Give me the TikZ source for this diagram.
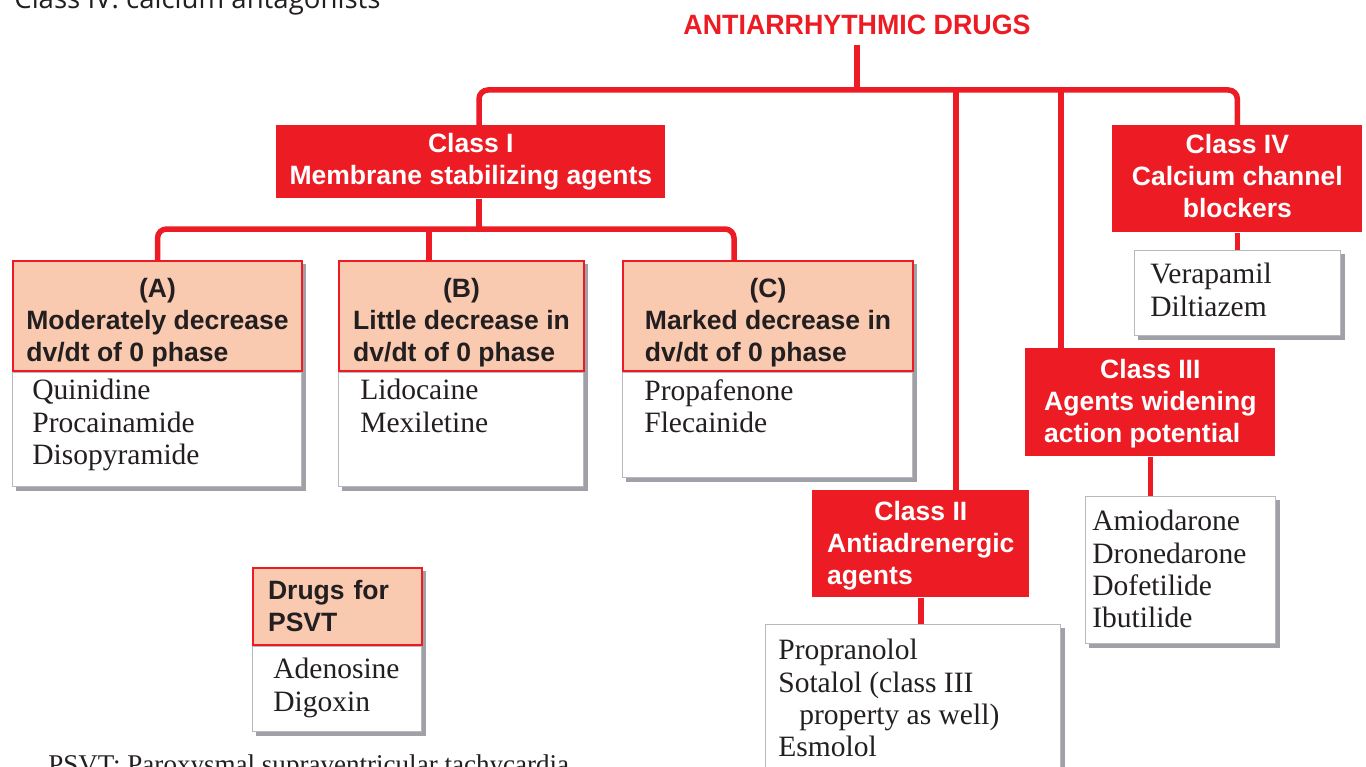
\documentclass[tikz,border=0pt]{standalone}
\usepackage{fontspec}
\setmainfont{Liberation Serif}
\newfontfamily\headfont{Liberation Sans}
\newfontfamily\titlefont[FakeStretch=0.96]{Liberation Sans}
\newfontfamily\notefont{Open Sans}
\usetikzlibrary{backgrounds}
\definecolor{clred}{RGB}{237,28,36}
\definecolor{peach}{RGB}{249,201,176}
\definecolor{boxgrey}{RGB}{185,185,185}
\definecolor{shadowgrey}{RGB}{160,161,168}
\definecolor{inkblack}{RGB}{35,31,32}
\newdimen\upx \upx=0.02cm
% first line centred, the others flush left
\newcommand{\headlines}[3][0pt]{\begin{tabular}{@{}l@{}}\noalign{\vskip#1}\multicolumn{1}{@{}c@{}}{#2}\\#3\end{tabular}}
\tikzset{
  link/.style={draw=clred, line width=5.5\upx},
  classbox/.style={fill=clred, text=white, inner sep=0, anchor=north west,
    font=\headfont\bfseries\fontsize{15.1pt}{18.2pt}\selectfont},
  subhead/.style={fill=peach, draw=clred, line width=1.2pt, text=inkblack, inner sep=0,
    anchor=south west, font=\headfont\bfseries\fontsize{15.1pt}{18.2pt}\selectfont},
  drugbox/.style={draw=boxgrey, fill=white, line width=0.6pt, inner sep=0, anchor=north west},
  drugs/.style={anchor=north west, align=left, inner sep=0, text=inkblack,
    font=\fontsize{16.8pt}{18.4pt}\selectfont},
  title/.style={text=clred, inner sep=0, outer ysep=10\upx,
    font=\titlefont\bfseries\fontsize{15.9pt}{18pt}\selectfont}
}

\begin{document}
\begin{tikzpicture}[x=0.02cm, y=-0.02cm]
    \path[use as bounding box, clip] (0,0) rectangle (1366,767);
    % cut-off line at the top
    \node[anchor=base west, inner sep=0, text=inkblack,
      font=\notefont\fontsize{15.7pt}{18pt}\selectfont] (topnote) at (14,9) {Class IV: calcium antagonists};
    \node[title] (title) at (857,25) {ANTIARRHYTHMIC DRUGS};

    % the four classes
    \node[classbox, minimum width=389\upx, minimum height=73\upx, align=center] (c1) at (276,125) {Class I\\Membrane stabilizing agents};
    \node[classbox, minimum width=250\upx, minimum height=107\upx] (c4) at (1112,125) {\begin{tabular}{@{}c@{}}Class IV\\Calcium channel\\blockers\end{tabular}};
    \node[classbox, minimum width=250\upx, minimum height=108\upx] (c3) at (1025,348) {\headlines[4\upx]{Class III}{Agents widening\\action potential}};
    \node[classbox, minimum width=217\upx, minimum height=107\upx] (c2) at (812,490) {\headlines[4\upx]{Class II}{Antiadrenergic\\agents}};

    % drug lists
    \node[drugbox, minimum width=289\upx, minimum height=114\upx] (bA) at (12,372) {};
    \node[drugbox, minimum width=245\upx, minimum height=114\upx] (bB) at (338,372) {};
    \node[drugbox, minimum width=290\upx, minimum height=105\upx] (bC) at (622,372) {};
    \node[drugbox, minimum width=169\upx, minimum height=85\upx] (bP) at (252,646) {};
    \node[drugbox, minimum width=206\upx, minimum height=85\upx] (b4) at (1134,250) {};
    \node[drugbox, minimum width=190\upx, minimum height=147\upx] (b3) at (1085,496) {};
    \node[drugbox, minimum width=295\upx, minimum height=160\upx] (b2) at (765,624) {};

    % subclass headers
    \node[subhead, minimum width=289\upx, minimum height=109\upx] (hA) at (bA.north west) {\headlines[14\upx]{(A)}{Moderately decrease\\dv/dt of 0 phase}};
    \node[subhead, minimum width=245\upx, minimum height=109\upx] (hB) at (bB.north west) {\headlines[14\upx]{(B)}{Little decrease in\\dv/dt of 0 phase}};
    \node[subhead, minimum width=290\upx, minimum height=109\upx] (hC) at (bC.north west) {\headlines[14\upx]{(C)}{Marked decrease in\\dv/dt of 0 phase}};
    \node[subhead, minimum width=169\upx, minimum height=77\upx, text width=139\upx, align=left] (hP) at (bP.north west) {Drugs for\\PSVT};

    \node[drugs] (tA) at ([shift={(20,7)}]bA.north west) {Quinidine\\Procainamide\\Disopyramide};
    \node[drugs] (tB) at ([shift={(22,7)}]bB.north west) {Lidocaine\\Mexiletine};
    \node[drugs] (tC) at ([shift={(22,7)}]bC.north west) {Propafenone\\Flecainide};
    \node[drugs] (tP) at ([shift={(21,12)}]bP.north west) {Adenosine\\Digoxin};
    \node[drugs] (t4) at ([shift={(16,13)}]b4.north west) {Verapamil\\Diltiazem};
    \node[drugs] (t3) at ([shift={(7,14)}]b3.north west) {Amiodarone\\Dronedarone\\Dofetilide\\Ibutilide};
    \node[drugs] (t2) at ([shift={(13,15)}]b2.north west) {Propranolol\\Sotalol (class III\\\hspace*{21\upx}property as well)\\Esmolol};
    \node[drugs, anchor=base west, font=\fontsize{15.4pt}{18pt}\selectfont] (psvtnote) at (48,773) {PSVT: Paroxysmal supraventricular tachycardia};

    % connectors
    \coordinate (top) at (857,90);
    \coordinate (k1) at (479,90);
    \coordinate (k2) at (956,90);
    \coordinate (k3) at (1061,90);
    \coordinate (s1) at (479,229);
    \coordinate (sB) at (429,229);
    \coordinate (sC) at (734,229);
    \draw[link] (title.south) -- (title.south |- top);
    \draw[link, rounded corners=9\upx] (k1 |- c1.north) -- (k1) -- (c4.north |- top) -- (c4.north);
    \draw[link] (k2) -- (k2 |- c2.north);
    \draw[link] (k3) -- (k3 |- c3.north);
    \draw[link] (s1 |- c1.south) -- (s1);
    \draw[link, rounded corners=9\upx] (hA.north) |- (sC) -- (sC |- hC.north);
    \draw[link] (sB) -- (sB |- hB.north);
    \draw[link] (c4.south) -- (c4.south |- b4.north);
    \draw[link] (c3.south) -- (c3.south |- b3.north);
    \draw[link] (c2.south) -- (c2.south |- b2.north);

    % shadows behind the cards
    \begin{scope}[on background layer]
      \fill[white] (0,0) rectangle (1366,767);
      \foreach \h/\b in {hA/bA, hB/bB, hC/bC, hP/bP}
        \fill[shadowgrey] ([shift={(4,4)}]\h.north west) rectangle ([shift={(4,4)}]\b.south east);
      \foreach \b in {b2, b3, b4}
        \fill[shadowgrey] ([shift={(4,4)}]\b.north west) rectangle ([shift={(4,4)}]\b.south east);
    \end{scope}
\end{tikzpicture}
\end{document}
